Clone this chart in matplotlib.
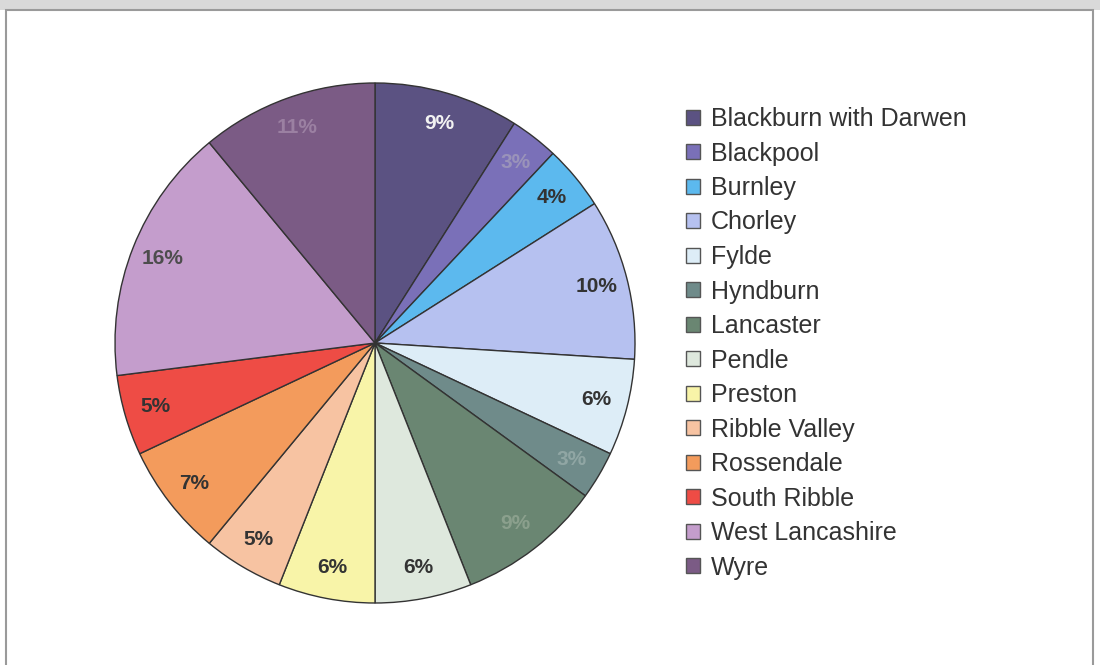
import matplotlib.pyplot as plt
from matplotlib.patches import Rectangle

# district shares (%)
districts = ['Blackburn with Darwen', 'Blackpool', 'Burnley', 'Chorley', 'Fylde',
             'Hyndburn', 'Lancaster', 'Pendle', 'Preston', 'Ribble Valley',
             'Rossendale', 'South Ribble', 'West Lancashire', 'Wyre']
shares = [9, 3, 4, 10, 6, 3, 9, 6, 6, 5, 7, 5, 16, 11]

colours = ['#5b5282', '#7a70b8', '#5cb9ee', '#b6c1f0', '#ddedf7',
           '#6f8b8a', '#6a8672', '#dee8dd', '#f8f4a8', '#f7c3a2',
           '#f39b5c', '#ee4c45', '#c49dcc', '#7b5b85']
label_colours = ['#f2f2f2', '#9a93ba', '#333333', '#333333', '#333333',
                 '#90a6a4', '#8ba08d', '#333333', '#333333', '#333333',
                 '#333333', '#333333', '#4d4d4d', '#9b80a2']

plt.rcParams['font.family'] = ['Liberation Sans', 'DejaVu Sans']

fig = plt.figure(figsize=(11, 6.65), dpi=100)
fig.patch.set_facecolor('white')

# grey strip along the top and the outer frame
fig.patches.append(Rectangle((0, 1 - 10 / 665), 1, 10 / 665, transform=fig.transFigure,
                             facecolor='#d9d9d9', edgecolor='none', zorder=0))
fig.patches.append(Rectangle((6 / 1100, -0.01), 1087 / 1100, 1 - 10 / 665 + 0.01,
                             transform=fig.transFigure, facecolor='none',
                             edgecolor='#9a9a9a', linewidth=1.5, zorder=1))

# pie centre (375, 343) px, radius 260 px
r_px = 260
lim = 1.02
side = 2 * r_px * lim
ax = fig.add_axes([(375 - side / 2) / 1100, (665 - 343 - side / 2) / 665,
                   side / 1100, side / 665])

wedges, texts, autotexts = ax.pie(
    shares, colors=colours, startangle=90, counterclock=False,
    autopct='%1.0f%%', pctdistance=0.88,
    wedgeprops=dict(edgecolor='#333333', linewidth=1.0),
    textprops=dict(fontsize=15, fontweight='bold'))
for t, c in zip(autotexts, label_colours):
    t.set_color(c)
ax.set_xlim(-lim, lim)
ax.set_ylim(-lim, lim)
ax.set_aspect('equal')
ax.axis('off')

leg = fig.legend(wedges, districts, loc='upper left',
                 bbox_to_anchor=(686 / 1100, 1 - 107 / 665),
                 frameon=False, fontsize=18, borderpad=0, borderaxespad=0,
                 handlelength=0.55, handleheight=0.55, handletextpad=0.45,
                 labelspacing=0.42)
for h in leg.legend_handles:
    h.set_edgecolor('#555555')
    h.set_linewidth(1.0)
for t in leg.get_texts():
    t.set_color('#333333')

fig.savefig('out.png', dpi=100)
